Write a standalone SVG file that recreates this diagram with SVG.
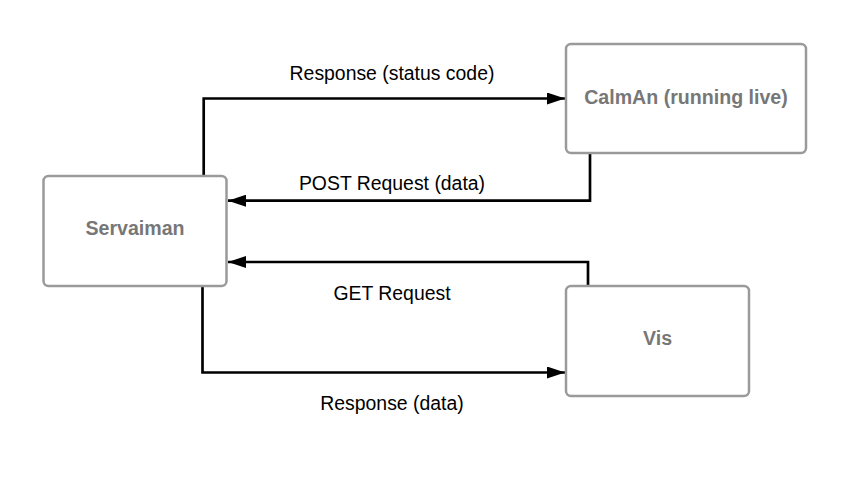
<svg xmlns="http://www.w3.org/2000/svg" width="849" height="482" viewBox="0 0 849 482">
<defs>
<style>
.box{fill:#ffffff;stroke:#9a9a9a;stroke-width:2.5}
.nl{font-family:"Liberation Sans",Arial,sans-serif;font-size:19.6px;font-weight:bold;fill:#777777;text-anchor:middle}
.el{font-family:"Liberation Sans",Arial,sans-serif;font-size:19.4px;fill:#000000;text-anchor:middle}
.ln{fill:none;stroke:#000000;stroke-width:2.67}
</style>
<marker id="ah" viewBox="0 0 18 12" refX="18" refY="6" markerWidth="18" markerHeight="12" markerUnits="userSpaceOnUse" orient="auto">
<path d="M0,0 L18,6 L0,12 Z" fill="#000000"/>
</marker>
</defs>
<rect width="849" height="482" fill="#ffffff"/>
<g id="connectors">
<path class="ln" d="M203.7,176 V98.5 H565" marker-end="url(#ah)"/>
<text class="el" x="392" y="80">Response (status code)</text>
<path class="ln" d="M590,153 V200.7 H228" marker-end="url(#ah)"/>
<text class="el" x="392" y="190">POST Request (data)</text>
<path class="ln" d="M588,286 V262 H228" marker-end="url(#ah)"/>
<text class="el" x="392" y="300">GET Request</text>
<path class="ln" d="M202.5,286 V372.5 H565" marker-end="url(#ah)"/>
<text class="el" x="392" y="410">Response (data)</text>
</g>
<g id="servaiman">
<rect class="box" x="43.5" y="176" width="183" height="110" rx="5"/>
<text class="nl" x="135" y="235">Servaiman</text>
</g>
<g id="calman">
<rect class="box" x="566" y="44" width="240" height="109" rx="5"/>
<text class="nl" x="686" y="103.5">CalmAn (running live)</text>
</g>
<g id="vis">
<rect class="box" x="566" y="286" width="183" height="110" rx="5"/>
<text class="nl" x="657.5" y="345">Vis</text>
</g>
</svg>
